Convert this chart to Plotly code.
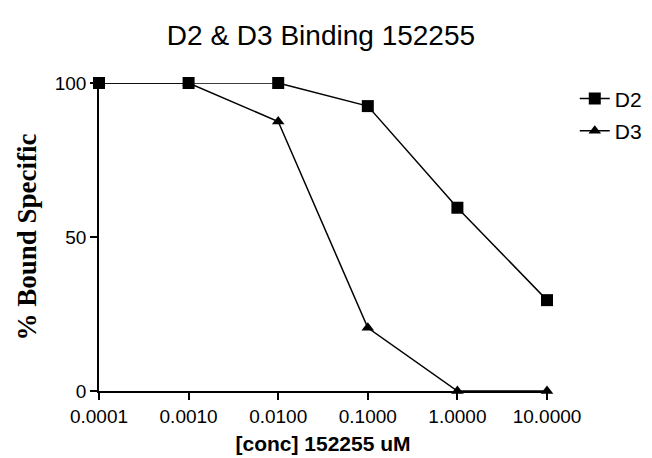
import plotly.graph_objects as go

conc = [0.0001, 0.001, 0.01, 0.1, 1.0, 10.0]
d2 = [100, 100, 100, 92.5, 59.5, 29.5]
d3 = [100, 100, 87.5, 20.5, 0, 0]
xtick_vals = [0.0001, 0.001, 0.01, 0.1, 1.0, 10.0]
xtick_text = ["0.0001", "0.0010", "0.0100", "0.1000", "1.0000", "10.0000"]
ytick_vals = [0, 50, 100]

fig = go.Figure()
fig.add_trace(go.Scatter(x=conc, y=d2, name="D2", mode="lines+markers",
                         line=dict(color="black", width=1.5),
                         marker=dict(symbol="square", size=12, color="black"),
                         cliponaxis=False, legendgroup="a"))
fig.add_trace(go.Scatter(x=conc, y=d3, name="D3", mode="lines+markers",
                         line=dict(color="black", width=1.5),
                         marker=dict(symbol="triangle-up", size=11, color="black"),
                         cliponaxis=False, legendgroup="b"))

fig.update_layout(
    width=652, height=458,
    margin=dict(l=91, r=113, t=75, b=75, autoexpand=False),
    paper_bgcolor="white", plot_bgcolor="white",
    title=dict(text="D2 & D3 Binding 152255", x=0.48, xanchor="center", y=0.94, yanchor="middle",
               font=dict(family="Liberation Sans, Arial", size=28, color="black")),
    font=dict(family="Liberation Sans, Arial", color="black"),
    legend=dict(x=1.062, y=1.015, xanchor="left", yanchor="top",
                font=dict(size=21, family="Liberation Sans, Arial"),
                tracegroupgap=2, itemwidth=30, bgcolor="rgba(0,0,0,0)"),
    xaxis=dict(type="log", range=[-4, 1], tickvals=xtick_vals, ticktext=xtick_text,
               showline=True, linecolor="black", linewidth=1.5, ticks="outside",
               tickcolor="black", ticklen=7, tickwidth=1.5, showgrid=False, zeroline=False,
               tickfont=dict(size=19),
               title=dict(text="<b>[conc] 152255 uM</b>", font=dict(size=21), standoff=11)),
    yaxis=dict(range=[0, 100], tickvals=ytick_vals,
               showline=True, linecolor="black", linewidth=1.5, ticks="outside",
               tickcolor="black", ticklen=7, tickwidth=1.5, showgrid=False, zeroline=False,
               tickfont=dict(size=19),
               title=dict(text="<b>% Bound Specific</b>",
                          font=dict(size=27, family="Liberation Serif, Times New Roman"), standoff=10)),
)

fig.write_html("out.html")
